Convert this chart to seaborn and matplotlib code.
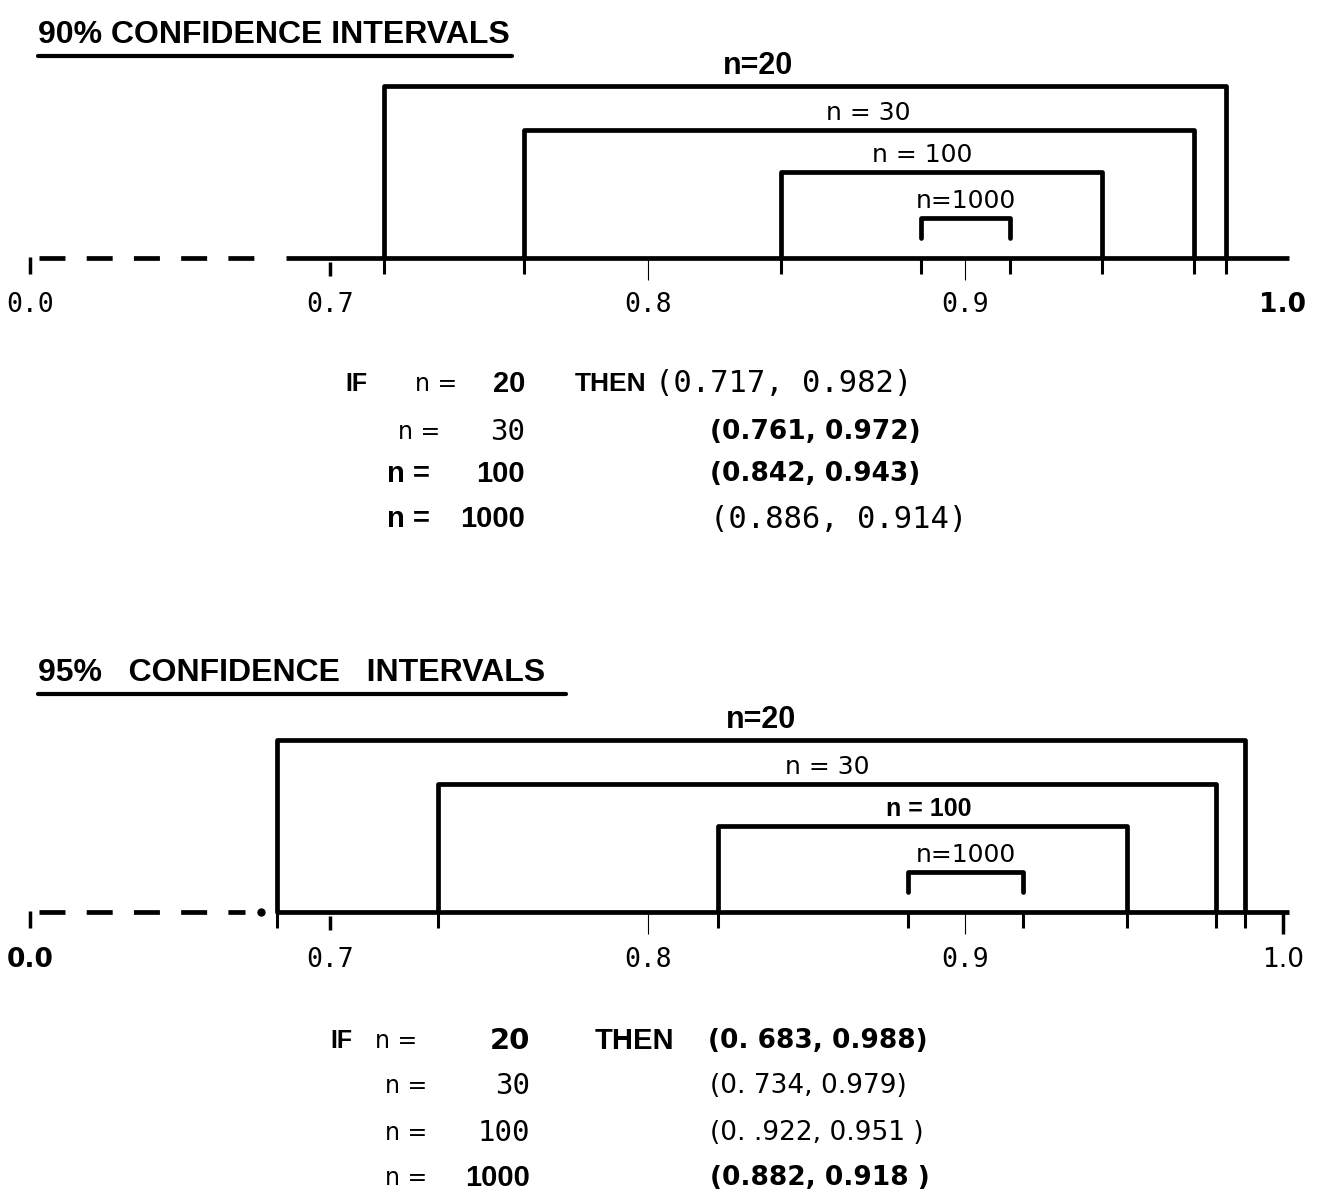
import matplotlib.pyplot as plt
import pandas as pd
import seaborn as sns


# interval values
SAMPLE_SIZES = [20, 30, 100, 1000]
BRACKET_LABELS = ["n=20", "n = 30", "n = 100", "n=1000"]
LOWER_90 = [0.717, 0.761, 0.842, 0.886]
UPPER_90 = [0.982, 0.972, 0.943, 0.914]
LOWER_95 = [0.683, 0.734, 0.822, 0.882]
UPPER_95 = [0.988, 0.979, 0.951, 0.918]
INTERVAL_TEXT_90 = ["(0.717, 0.982)", "(0.761, 0.972)", "(0.842, 0.943)", "(0.886, 0.914)"]
INTERVAL_TEXT_95 = ["(0. 683, 0.988)", "(0. 734, 0.979)", "(0. .922, 0.951 )", "(0.882, 0.918 )"]
AXIS_TICKS = [0.7, 0.8, 0.9, 1.0]
TICK_LABELS = ["0.0", "0.7", "0.8", "0.9", "1.0"]

# layout: x in data units across the whole figure width, y in pixels from the top
FIG_W, FIG_H = 1322, 1204
X_LO, X_HI = 0.5959, 1.0123
BREAK_X = 0.6053  # where the "0.0" end of the broken axis sits
BRACKET_RISE = [172, 128, 86, 40]
LINE_W = 3.4

FONTS = {
    "title": dict(family="Liberation Sans", weight="bold"),
    "bold": dict(family="Liberation Sans", weight="bold"),
    "wide": dict(family="DejaVu Sans", weight="bold"),
    "sans": dict(family="DejaVu Sans"),
    "mono": dict(family="DejaVu Sans Mono"),
}

PANELS = [
    dict(title="90% CONFIDENCE INTERVALS", title_y=35, underline=(38, 512), axis_y=258,
         solid_from=0.686, dot=False, lower=LOWER_90, upper=UPPER_90, text=INTERVAL_TEXT_90,
         label_font=["mono", "mono", "mono", "mono", "wide"], label_y=305,
         label_style=["bold", "sans", "sans", "sans"], label_shift=[-0.015, 0.003, -0.006, 0.0],
         rows_y=[384, 432, 474, 519], if_x=345, n_x=[415, 398, 387, 387], val_right=525,
         n_style=["sans", "sans", "bold", "bold"], val_style=["bold", "mono", "bold", "bold"],
         then_x=575, then_size=19, int_x=[655, 710, 710, 710], int_style=["mono", "wide", "wide", "mono"]),
    dict(title="95%   CONFIDENCE   INTERVALS", title_y=673, underline=(38, 566), axis_y=912,
         solid_from=LOWER_95[0], dot=True, lower=LOWER_95, upper=UPPER_95, text=INTERVAL_TEXT_95,
         label_font=["wide", "mono", "mono", "mono", "sans"], label_y=960,
         label_style=["bold", "sans", "bold", "sans"], label_shift=[0.0, 0.0, 0.002, 0.0],
         rows_y=[1041, 1086, 1133, 1178], if_x=330, n_x=[375, 385, 385, 385], val_right=530,
         n_style=["sans", "sans", "sans", "sans"], val_style=["wide", "mono", "mono", "bold"],
         then_x=595, then_size=21, int_x=[708, 710, 710, 710], int_style=["wide", "sans", "sans", "wide"]),
]


def bracket_frame(lower, upper, axis_y):
    rows = []
    for i, (lo, hi, rise) in enumerate(zip(lower, upper, BRACKET_RISE)):
        top = axis_y - rise
        bottom = axis_y if i < 3 else top + 20
        for x, y in [(lo, bottom), (lo, top), (hi, top), (hi, bottom)]:
            rows.append({"bracket": i, "x": x, "y": y})
    return pd.DataFrame(rows)


def draw_panel(ax, pix, p):
    axis_y = p["axis_y"]

    # title with underline
    pix.text(p["underline"][0], p["title_y"], p["title"], fontsize=23, va="center", ha="left", **FONTS["title"])
    pix.plot(p["underline"], [p["title_y"] + 21] * 2, color="black", lw=3)

    # broken axis: dashed stub from 0.0, then the solid scale
    ax.plot([BREAK_X + 0.003, p["solid_from"] - 0.01], [axis_y, axis_y], color="black", lw=LINE_W,
            linestyle=(0, (5.5, 4.5)), solid_capstyle="butt")
    ax.vlines(BREAK_X, axis_y - 1, axis_y + 16, color="black", lw=2.5)
    if p["dot"]:
        ax.plot(p["solid_from"] - 0.005, axis_y, "o", color="black", ms=5)
    ax.plot([p["solid_from"], 1.002], [axis_y, axis_y], color="black", lw=LINE_W, solid_capstyle="butt")

    # brackets
    frame = bracket_frame(p["lower"], p["upper"], axis_y)
    sns.lineplot(data=frame, x="x", y="y", units="bracket", estimator=None, sort=False,
                 color="black", linewidth=LINE_W, ax=ax, legend=False)
    for i, (lo, hi, rise) in enumerate(zip(p["lower"], p["upper"], BRACKET_RISE)):
        ax.text((lo + hi) / 2 + p["label_shift"][i], axis_y - rise - 5, BRACKET_LABELS[i], ha="center",
                va="bottom", fontsize=22 if i == 0 else 18, **FONTS[p["label_style"][i]])

    # small marks under the axis at each end point
    ends = p["lower"] + p["upper"]
    ax.vlines(ends, axis_y, axis_y + 16, color="black", lw=2.2)
    ax.vlines(AXIS_TICKS[1:3], axis_y, axis_y + 22, color="black", lw=0.8)
    ax.vlines(AXIS_TICKS[0], axis_y + 4, axis_y + 18, color="black", lw=2.5)
    if p["dot"]:
        ax.vlines(AXIS_TICKS[-1], axis_y, axis_y + 22, color="black", lw=2.5)

    for x, lab, style in zip([BREAK_X] + AXIS_TICKS, TICK_LABELS, p["label_font"]):
        ax.text(x, p["label_y"], lab, ha="center", va="center", fontsize=19, **FONTS[style])

    # IF / THEN table
    for i, y in enumerate(p["rows_y"]):
        if i == 0:
            pix.text(p["if_x"], y, "IF", ha="left", va="center", fontsize=18, **FONTS["bold"])
            pix.text(p["then_x"], y, "THEN", ha="left", va="center", fontsize=p["then_size"], **FONTS["bold"])
        pix.text(p["n_x"][i], y, "n =", ha="left", va="center", fontsize=17 if p["n_style"][i] == "sans" else 21,
                 **FONTS[p["n_style"][i]])
        pix.text(p["val_right"], y, str(SAMPLE_SIZES[i]), ha="right", va="center", fontsize=21,
                 **FONTS[p["val_style"][i]])
        pix.text(p["int_x"][i], y, p["text"][i], ha="left", va="center", fontsize=22 if p["int_style"][i] == "mono" else 19,
                 **FONTS[p["int_style"][i]])


def main():
    sns.set_theme(style="white", rc={"text.color": "black"})
    fig = plt.figure(figsize=(FIG_W / 100, FIG_H / 100), dpi=100)
    fig.patch.set_facecolor("white")
    ax = fig.add_axes([0, 0, 1, 1])
    pix = fig.add_axes([0, 0, 1, 1])
    for panel in PANELS:
        draw_panel(ax, pix, panel)
    ax.set_xlim(X_LO, X_HI)
    ax.set_ylim(FIG_H, 0)
    pix.set_xlim(0, FIG_W)
    pix.set_ylim(FIG_H, 0)
    for a in (ax, pix):
        a.axis("off")
    fig.savefig("out.png", dpi=100, facecolor="white")
    plt.close(fig)


if __name__ == "__main__":
    main()
